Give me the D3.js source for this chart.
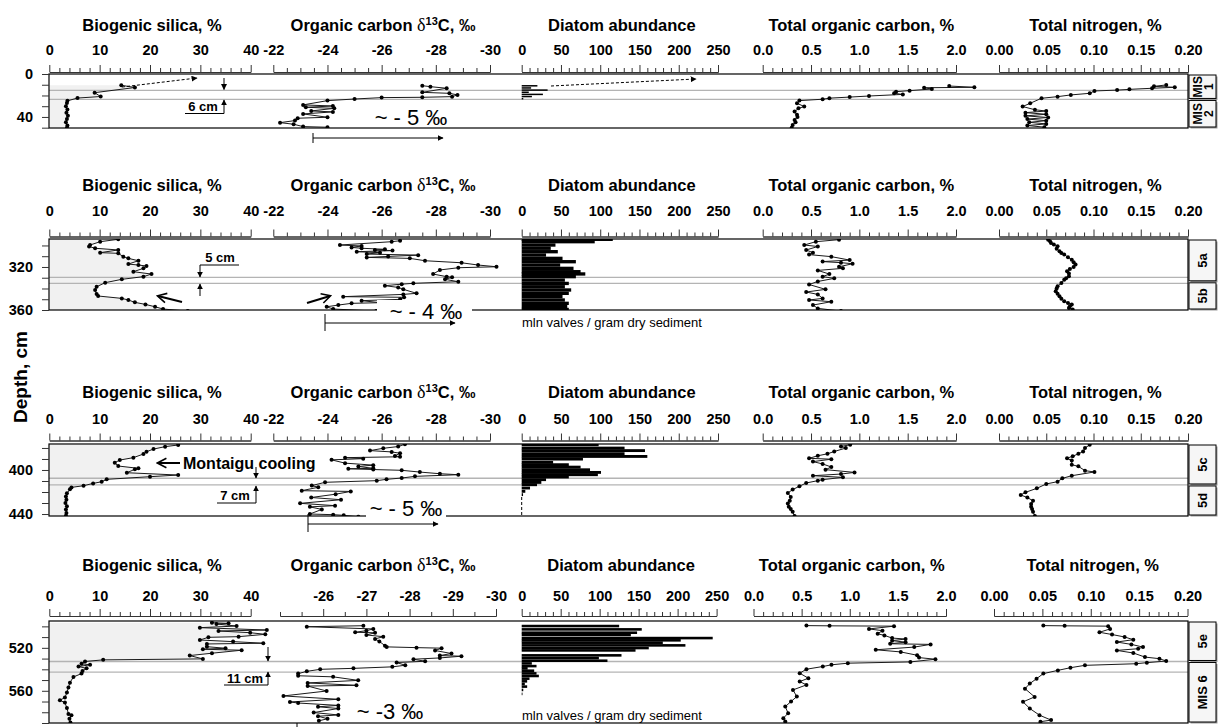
<!DOCTYPE html>
<html>
<head>
<meta charset="utf-8">
<script src="https://cdnjs.cloudflare.com/ajax/libs/d3/7.8.5/d3.min.js"></script>
<style>
  body { margin: 0; background: #fff; }
  svg { display: block; font-family: "Liberation Sans", Arial, sans-serif; }
</style>
</head>
<body>
<script>
// ---- data: [depth cm, value] ----
const silicaR1 = [[10.5,14.3],[12.6,17.0],[17.4,9.0],[21.0,10.2],[22.4,5.6],[25.0,3.6],[27,3.5],[30,3.3],[33,3.6],[36,3.4],[39,3.7],[42,3.5],[45,3.3],[48,3.6],[50,3.5]];
const d13cR1 = [[10.9,-27.5],[11.8,-27.8],[13.3,-28.4],[17.1,-27.5],[18,-28.5],[19.5,-28.8],[21.1,-28.6],[21.7,-27.5],[22,-26.0],[23.3,-25.0],[24.8,-24.0],[28.8,-23.1],[29.8,-24.2],[31,-23.2],[32,-24.25],[34.4,-23.4],[35.3,-24.2],[37.2,-23.1],[40.3,-24.0],[41.2,-22.9],[43.4,-22.8],[45.3,-22.25],[46.8,-22.75],[49,-23.1],[49.6,-24.0]];
const diatomR1 = [[11,20],[13,12],[15,33],[17,9],[19,27],[21,13],[23,2]];
const tocR1 = [[11.2,1.93],[12.4,2.19],[12.8,1.67],[14,1.75],[15.5,1.52],[16.5,1.38],[18,1.36],[19,1.45],[20.5,1.10],[21.5,0.90],[22.5,0.69],[23.5,0.62],[24.8,0.38],[27.3,0.355],[30.3,0.43],[32,0.37],[35,0.33],[38,0.355],[40,0.36],[42.8,0.33],[45,0.34],[47.4,0.31],[50,0.30]];
const tnR1 = [[10.2,0.177],[11.5,0.164],[12.4,0.186],[13.3,0.162],[14.3,0.138],[15,0.125],[15.8,0.101],[18,0.096],[19.5,0.076],[21.1,0.062],[22.6,0.045],[27.3,0.033],[30.3,0.025],[33.3,0.038],[34.5,0.05],[36,0.028],[37.5,0.05],[39,0.028],[40.5,0.052],[42,0.03],[43.5,0.05],[45,0.032],[46.5,0.05],[48,0.03],[49.5,0.048]];

const silicaR2 = [[294.3,13.7],[296.5,10.1],[299.6,8.1],[301,7.9],[302.6,9.1],[304.2,13.7],[306.7,10.1],[307.3,13.7],[310.4,14.7],[312,15.7],[314.2,17.7],[317.3,15.7],[318.2,17.7],[319.1,19.3],[321.3,18.7],[324.4,16.7],[326.6,20.3],[329,18.7],[331.5,14.4],[334.6,11.1],[338.4,9.4],[341.4,9.1],[345.2,9.4],[347,9.7],[349.2,14.4],[350.7,15.7],[352.9,17],[354.8,19.1],[357,21],[359.1,22.6],[361,27.5]];
const d13cR2 = [[295.6,-26.68],[296.5,-26.37],[299.6,-24.46],[300.5,-25.26],[301.8,-24.89],[302.6,-25.26],[303.6,-26.12],[304.2,-25.75],[304.8,-26.4],[305.8,-25.08],[306.7,-25.94],[308,-25.45],[309,-27.35],[310.2,-26.24],[311.1,-25.45],[312,-27.04],[314.2,-27.6],[316.1,-28.95],[318.2,-29.56],[319.8,-30.24],[320.7,-28.83],[322.8,-28.15],[326.6,-27.9],[329,-28.4],[329.6,-28.6],[331.5,-28.34],[333.7,-28.83],[335.2,-27.17],[336,-26.74],[337.4,-26.12],[339,-26.61],[340.8,-26.8],[344.5,-27.29],[345.5,-26.8],[347.6,-24.58],[348.2,-26.83],[350.1,-26.68],[351.3,-25.26],[353.2,-25.94],[353.8,-24.89],[355.4,-24.4],[357,-23.97],[359.1,-24.21],[361,-25.8]];
const diatomR2 = [[294.3,116],[296.5,93],[299.6,43],[302.6,37],[305.8,46],[308.9,31],[312,52],[315.1,69],[318.2,49],[321.3,66],[324.4,75],[326.5,81],[329,69],[332.2,55],[335.3,60],[338.4,55],[341.4,63],[344.5,60],[347.6,52],[350.7,55],[353.8,60],[356.9,58],[359.5,60]];
const tocR2 = [[294.6,0.79],[296.5,0.55],[299.6,0.43],[301,0.57],[304.2,0.45],[306.7,0.52],[308.5,0.48],[310.4,0.71],[313.6,0.90],[315,0.62],[316,0.81],[317,0.93],[319.8,0.79],[321.3,0.83],[323.2,0.57],[326.6,0.69],[329,0.62],[330.6,0.74],[333.5,0.57],[336.3,0.48],[340.8,0.65],[343.3,0.45],[345.5,0.57],[349.2,0.62],[350.7,0.48],[352.3,0.71],[355.4,0.52],[358.5,0.57],[361,0.81]];
const tnR2 = [[294.6,0.052],[296,0.054],[297.7,0.055],[299,0.058],[300.8,0.062],[303,0.061],[305.5,0.064],[307,0.066],[308.5,0.069],[311,0.073],[313.2,0.077],[315.5,0.079],[317.8,0.081],[320,0.079],[322,0.075],[324,0.072],[326,0.074],[328.7,0.074],[330.5,0.071],[331.8,0.069],[335,0.066],[338,0.062],[340,0.061],[342.6,0.06],[345,0.062],[347.3,0.064],[349.5,0.066],[351.9,0.069],[353.5,0.073],[355,0.077],[356.5,0.075],[358.1,0.074],[359.5,0.078]];

const silicaR3 = [[377.3,25.6],[378.8,23],[381,20.7],[383.4,19.3],[385.5,18.7],[388.8,16.7],[391,14],[393.4,13],[396.4,13.7],[398.5,17.7],[399.4,17],[402.5,15.4],[404.6,25.6],[406.1,20],[408.5,11.4],[410.7,10.4],[412.2,8.7],[414.3,6.8],[415.8,4.4],[417.6,4.1],[421.2,3.5],[424,3.3],[427,3.4],[430,3.2],[433,3.5],[436,3.3],[439,3.4],[441.5,3.3]];
const d13cR3 = [[376.6,-26.86],[378.7,-26.61],[380.3,-26.06],[382.4,-25.57],[383.6,-26.37],[384.8,-26.68],[387.2,-26.49],[388,-26.68],[388.8,-24.65],[389.7,-25.32],[390.8,-24.15],[393.8,-24.65],[395.6,-25.69],[396.8,-25.14],[398.5,-25.69],[398.9,-24.77],[399.6,-25.69],[400.3,-26.74],[401.9,-27.41],[403.4,-28.15],[404.3,-28.83],[405.8,-27.23],[407.3,-26.74],[408.5,-26.18],[409.7,-25.82],[411.2,-23.91],[414.2,-23.42],[415.7,-23.66],[418.8,-23.05],[419.5,-24.86],[422,-24.3],[425,-23.4],[427,-24.5],[430.3,-22.99],[432.4,-24.28],[433.5,-23.35],[435.8,-23.79],[440,-23.35],[440.6,-24.21],[441.2,-24.6],[442.5,-25.14]];
const diatomR3 = [[377.1,98],[380.1,131],[382.4,157],[385.2,131],[387.7,160],[390.1,78],[393.1,40],[395.2,60],[397.4,75],[399.8,87],[402.2,101],[404.3,97],[406.4,60],[408.8,31],[411.3,25],[413.4,19.5],[416.4,10.6],[419.4,4.6],[422.4,1.7]];
const tocR3 = [[377.1,0.905],[378.6,0.81],[380.1,0.86],[383.2,0.74],[385.3,0.67],[387.1,0.57],[389.4,0.48],[390.2,0.71],[392.4,0.52],[394.5,0.62],[397.3,0.71],[399.7,0.65],[402.2,0.95],[403.7,0.81],[405.2,0.52],[406.7,0.83],[408.8,0.62],[409.7,0.57],[411.8,0.45],[414.8,0.38],[417.8,0.31],[420.9,0.26],[424.5,0.29],[428,0.28],[430.5,0.26],[433.3,0.27],[435.5,0.29],[437.9,0.31],[441.9,0.33]];
const tnR3 = [[377.1,0.096],[380.1,0.091],[383.2,0.089],[385.3,0.084],[387.5,0.078],[389.4,0.072],[391.5,0.077],[395.2,0.077],[396.7,0.084],[400.6,0.091],[401.8,0.101],[405.2,0.077],[407.6,0.067],[410.6,0.062],[412.7,0.05],[416.7,0.04],[420.3,0.028],[422.7,0.023],[425,0.03],[428,0.036],[431,0.034],[433.3,0.034],[435.5,0.035],[437.9,0.036],[441.9,0.038]];

const silicaR4 = [[496.6,32.3],[497.2,35.6],[497.8,33.2],[499.7,37.2],[501.2,29.9],[503.4,43.2],[504.3,33.6],[505.9,39.9],[507.4,42.9],[509.6,37.6],[510.2,31.6],[512.7,29.9],[514.2,36.5],[515.7,42.5],[516.4,31.3],[518.9,31.3],[520.4,35],[521.3,30.5],[522.2,38.2],[525,32.3],[527.2,27.9],[530.3,30.5],[531.2,10.7],[532.7,7.1],[534.8,6.4],[535.8,8.1],[537.4,5.8],[539.1,7.4],[541.6,6.6],[544,6.4],[547.1,4.8],[552.4,4.1],[557,3.8],[561.7,3.5],[566.3,3.1],[568.8,2.1],[571,3.1],[576,3.5],[581.6,3.8],[582.8,4.4],[586,4],[589.5,4.2]];
const d13cR4 = [[499.4,-26.93],[500.3,-25.62],[502.4,-27.16],[504,-27.0],[505.5,-26.74],[506,-27.2],[508,-27.0],[509.6,-27.39],[511.7,-27.2],[514,-27.3],[518,-27.43],[519.1,-27.47],[519.8,-28.16],[520.3,-28.74],[522.5,-28.59],[525.3,-28.97],[527.2,-28.7],[527.8,-29.2],[529.4,-28.7],[530.6,-28.09],[532.5,-28.36],[533.7,-27.7],[536.2,-27.9],[537.7,-27.6],[539.1,-26.7],[540,-25.93],[541.9,-25.62],[544,-25.42],[546,-25.42],[547,-26.23],[550.3,-26.81],[552.7,-25.64],[554.9,-26.77],[555.6,-25.64],[560.2,-26.08],[564.8,-25.08],[567.9,-26.35],[570.4,-25.23],[571.4,-25.42],[573.6,-26.35],[574.9,-25.88],[576.5,-26.35],[580.3,-25.78],[582.5,-26.35],[583.7,-25.88],[586,-26.1],[588,-25.9]];
const diatomR4 = [[499.7,125],[502.8,154],[505.9,148],[508,140],[510.9,245],[513,204],[515.2,181],[517.7,210],[520.2,163],[522.4,146],[527,128],[529.5,99],[532,110],[534.5,13],[537,19],[539.1,7.6],[541.3,16],[543.8,19],[546.2,22],[548.7,10],[551.2,7],[553.7,4],[556.1,7],[559.2,2],[562.9,1]];
const tocR4 = [[499.3,0.55],[499.5,0.79],[499.8,1.46],[502.4,1.20],[504,1.34],[506.9,1.29],[508.4,1.36],[510.9,1.44],[511.8,1.58],[513.3,1.44],[514.7,1.58],[516.2,1.42],[516.8,1.84],[519.3,1.67],[521.8,1.27],[523.8,1.53],[526.9,1.70],[529.1,1.72],[530.6,1.89],[533.1,1.63],[534.3,0.98],[535.8,0.81],[537.4,0.72],[539.9,0.55],[543.6,0.48],[548.3,0.57],[551.4,0.48],[554.5,0.55],[559.2,0.41],[565.4,0.45],[570,0.39],[574.7,0.33],[580.9,0.36],[585.5,0.31],[588.6,0.33]];
const tnR4 = [[499.3,0.051],[499.5,0.073],[499.8,0.118],[502.4,0.12],[505.5,0.109],[507.6,0.122],[509.9,0.135],[512.4,0.144],[514.6,0.127],[516.8,0.142],[519.3,0.154],[520.8,0.149],[522.4,0.127],[524.8,0.144],[528.6,0.156],[530.1,0.171],[532.3,0.178],[533.8,0.158],[534.8,0.147],[536.3,0.094],[538.5,0.079],[541,0.066],[544,0.051],[548.7,0.044],[553.3,0.037],[558,0.032],[565.7,0.042],[570.3,0.03],[576.5,0.037],[582.7,0.047],[587.3,0.059],[588.8,0.048]];

// depth ranges, labelled depths, stage boundaries and stage names per row
const depthDomains = [[0, 50.3], [294, 360], [376.4, 441.8], [495, 590]];
const depthLabels = [[0, 40], [320, 360], [400, 440], [520, 560]];
const boundaryDepths = [[15.2, 23.7], [329.6, 335.2], [407.5, 413.6], [532.7, 542.6]];
const stages = [
  [['MIS 1', 0, 23.7], ['MIS 2', 23.7, 50.3]],
  [['5a', 294, 333.8], ['5b', 333.8, 360]],
  [['5c', 376.4, 413.6], ['5d', 413.6, 441.8]],
  [['5e', 495, 532.7], ['MIS 6', 532.7, 590]]
];

// tick labels
const silicaLabels = [0, 10, 20, 30, 40];
const d13cLabels = [-22, -24, -26, -28, -30];
const d13cLabelsR4 = [-26, -27, -28, -29, -30];
const diatomLabels = [0, 50, 100, 150, 200, 250];
const tocLabels = [0, 0.5, 1.0, 1.5, 2.0];
const tnLabels = [0, 0.05, 0.10, 0.15, 0.20];

const silicaRows = [silicaR1, silicaR2, silicaR3, silicaR4];
const d13cRows = [d13cR1, d13cR2, d13cR3, d13cR4];
const diatomRows = [diatomR1, diatomR2, diatomR3, diatomR4];
const tocRows = [tocR1, tocR2, tocR3, tocR4];
const tnRows = [tnR1, tnR2, tnR3, tnR4];

// ---- layout ----
const width = 1218, height = 727;
const frameLeft = 49, frameRight = 1188, boxRight = 1216;
const rowTop = [74, 239, 444, 621];
const rowBottom = [128, 310, 516, 723];
const axisY = [72, 236.5, 440.5, 616];
const labelLift = [17, 21, 17, 15];
const titleY = [31, 191, 397.5, 571];
const barThick = [1.4, 3.1, 2.6, 2.4];

function colRange(key, r) {
  const base = { silica: [49.3, 250.7], d13c: [273.3, 490], diatom: [521.7, 718], toc: [762.7, 956], tn: [999, 1188] };
  const last = { silica: [49.3, 250.7], d13c: [280, 496], diatom: [521.7, 716.6], toc: [753.5, 946], tn: [994, 1187.5] };
  return (r === 3 ? last : base)[key];
}

const panels = [
  { key: 'silica', dom: [0, 40], step: 2, labels: () => silicaLabels, fmt: d => d, title: 'Biogenic silica, %' },
  { key: 'd13c', dom: [-22, -30], step: 0.5, labels: r => r === 3 ? d13cLabelsR4 : d13cLabels, fmt: d => String(d), title: null },
  { key: 'diatom', dom: [0, 250], step: 10, labels: () => diatomLabels, fmt: d => d, title: 'Diatom abundance' },
  { key: 'toc', dom: [0, 2], step: 0.1, labels: () => tocLabels, fmt: d3.format('.1f'), title: 'Total organic carbon, %' },
  { key: 'tn', dom: [0, 0.2], step: 0.01, labels: () => tnLabels, fmt: d3.format('.2f'), title: 'Total nitrogen, %' }
];

const svg = d3.select('body').append('svg')
  .attr('width', width)
  .attr('height', height);

const defs = svg.append('defs');
defs.append('marker').attr('id', 'tri')
  .attr('viewBox', '0 0 10 10').attr('refX', 9).attr('refY', 5)
  .attr('markerWidth', 6).attr('markerHeight', 6).attr('orient', 'auto')
  .append('path').attr('d', 'M0,0L10,5L0,10z').attr('fill', '#000');
defs.append('marker').attr('id', 'open')
  .attr('viewBox', '0 0 10 10').attr('refX', 8).attr('refY', 5)
  .attr('markerWidth', 6).attr('markerHeight', 6).attr('orient', 'auto')
  .append('path').attr('d', 'M1,1L8.5,5L1,9').attr('fill', 'none').attr('stroke', '#000').attr('stroke-width', 1.3);

function styleAxis(sel) {
  sel.attr('font-family', null).attr('font-size', 14.5).attr('font-weight', 'bold');
  sel.selectAll('path').attr('stroke', '#333');
  sel.selectAll('line').attr('stroke', '#333');
  sel.selectAll('text').attr('fill', '#000');
}

for (let r = 0; r < 4; r++) {
  const top = rowTop[r], bot = rowBottom[r];
  const y = d3.scaleLinear().domain(depthDomains[r]).range([top, bot]);
  const xs = {};
  panels.forEach(p => {
    const dom = (r === 3 && p.key === 'd13c') ? [-25, -30] : p.dom;
    xs[p.key] = d3.scaleLinear().domain(dom).range(colRange(p.key, r));
  });

  defs.append('clipPath').attr('id', 'clip' + r)
    .append('rect').attr('x', frameLeft).attr('y', top)
    .attr('width', frameRight - frameLeft).attr('height', bot - top);

  const g = svg.append('g');
  const plot = g.append('g').attr('clip-path', `url(#clip${r})`);

  // silica area fill
  plot.append('path').datum(silicaRows[r])
    .attr('d', d3.area().y(d => y(d[0])).x0(xs.silica(0)).x1(d => xs.silica(d[1])))
    .attr('fill', '#f1f1f1');

  // stage boundaries
  plot.selectAll('.bd').data(boundaryDepths[r]).enter().append('line')
    .attr('x1', frameLeft).attr('x2', frameRight)
    .attr('y1', d => y(d)).attr('y2', d => y(d))
    .attr('stroke', '#b4b4b4').attr('stroke-width', 1.3);

  // diatom bars
  plot.selectAll('.bar').data(diatomRows[r]).enter().append('rect')
    .attr('x', xs.diatom(0))
    .attr('y', d => y(d[0] - barThick[r] / 2))
    .attr('width', d => xs.diatom(d[1]) - xs.diatom(0))
    .attr('height', d => Math.max(1, y(d[0] + barThick[r] / 2) - y(d[0] - barThick[r] / 2)))
    .attr('fill', '#000');

  // line series with dots
  [['silica', silicaRows[r]], ['d13c', d13cRows[r]], ['toc', tocRows[r]], ['tn', tnRows[r]]].forEach(([key, data]) => {
    const xsc = xs[key];
    plot.append('path').datum(data)
      .attr('d', d3.line().x(d => xsc(d[1])).y(d => y(d[0])))
      .attr('fill', 'none').attr('stroke', '#1a1a1a').attr('stroke-width', 1);
    plot.selectAll(null).data(data).enter().append('circle')
      .attr('cx', d => xsc(d[1])).attr('cy', d => y(d[0]))
      .attr('r', 2).attr('fill', '#000');
  });

  // frame
  g.append('rect').attr('x', frameLeft).attr('y', top)
    .attr('width', frameRight - frameLeft).attr('height', bot - top)
    .attr('fill', 'none').attr('stroke', '#000').attr('stroke-width', 1.2);

  // depth axis
  const dTicks = d3.range(Math.ceil(depthDomains[r][0] / 10) * 10, depthDomains[r][1] + 0.01, 10);
  g.append('g').attr('transform', `translate(${frameLeft},0)`)
    .call(d3.axisLeft(y).tickValues(dTicks).tickSize(7).tickPadding(9).tickSizeOuter(0)
      .tickFormat(d => depthLabels[r].includes(d) ? d : ''))
    .call(styleAxis)
    .call(s => s.select('.domain').remove());

  // top axes and titles
  panels.forEach(p => {
    const sc = xs[p.key];
    const labels = p.labels(r);
    const dom = sc.domain();
    const n = Math.round(Math.abs(dom[1] - dom[0]) / p.step);
    const ticks = d3.range(n + 1).map(i => dom[0] + Math.sign(dom[1] - dom[0]) * i * p.step);
    const isLab = v => labels.some(l => Math.abs(l - v) < 1e-6);
    g.append('g').attr('transform', `translate(0,${axisY[r]})`)
      .call(d3.axisTop(sc).tickValues(ticks.filter(v => !isLab(v))).tickSize(4).tickSizeOuter(0).tickFormat(''))
      .call(styleAxis);
    g.append('g').attr('transform', `translate(0,${axisY[r]})`)
      .call(d3.axisTop(sc).tickValues(labels).tickSize(7).tickSizeOuter(0)
        .tickPadding(labelLift[r] - 7).tickFormat(p.fmt))
      .call(styleAxis);

    const cx = (sc.range()[0] + sc.range()[1]) / 2;
    if (p.title) {
      g.append('text').attr('x', cx + 2).attr('y', titleY[r])
        .attr('text-anchor', 'middle').attr('font-size', 16.5).attr('font-weight', 'bold')
        .text(p.title);
    } else {
      const t = g.append('text').attr('x', 383).attr('y', titleY[r])
        .attr('text-anchor', 'middle').attr('font-size', 16.5).attr('font-weight', 'bold');
      t.append('tspan').text('Organic carbon  ');
      t.append('tspan').attr('font-family', '"Liberation Serif", serif').attr('font-weight', 'normal').attr('font-size', 18).text('δ');
      t.append('tspan').attr('font-size', 11).attr('dy', -6).text('13');
      t.append('tspan').attr('dy', 6).text('C, ‰');
    }
  });

  // stage label boxes
  stages[r].forEach(([name, a, b]) => {
    const y0 = y(a) + 1, y1 = y(b) - 1;
    g.append('rect').attr('x', frameRight + 2.5).attr('y', y0 + 1.5)
      .attr('width', boxRight - frameRight - 1).attr('height', y1 - y0).attr('fill', '#9a9a9a');
    g.append('rect').attr('x', frameRight + 1).attr('y', y0)
      .attr('width', boxRight - frameRight - 1).attr('height', y1 - y0)
      .attr('fill', '#f6f6f6').attr('stroke', '#000').attr('stroke-width', 1);
    const cx = (frameRight + 1 + boxRight) / 2, cy = (y0 + y1) / 2;
    const lines = (y1 - y0 < 32) ? name.split(' ') : [name];
    lines.forEach((ln, i) => {
      const off = lines.length === 1 ? 0 : (i === 0 ? -5 : 6);
      g.append('text')
        .attr('transform', `translate(${cx + off},${cy}) rotate(-90)`)
        .attr('text-anchor', 'middle').attr('dominant-baseline', 'central')
        .attr('font-size', lines.length === 1 ? 13 : 12).attr('font-weight', 'bold')
        .text(ln);
    });
  });
}

// ---- annotations ----
function arrow(x1, y1, x2, y2, opts = {}) {
  const l = svg.append('line').attr('x1', x1).attr('y1', y1).attr('x2', x2).attr('y2', y2)
    .attr('stroke', '#000').attr('stroke-width', opts.w || 1)
    .attr('marker-end', `url(#${opts.marker || 'tri'})`);
  if (opts.dash) l.attr('stroke-dasharray', opts.dash);
  return l;
}
function seg(x1, y1, x2, y2, w) {
  return svg.append('line').attr('x1', x1).attr('y1', y1).attr('x2', x2).attr('y2', y2)
    .attr('stroke', '#000').attr('stroke-width', w || 1);
}
function label(x, y, txt, size, bold, anchor) {
  return svg.append('text').attr('x', x).attr('y', y).attr('font-size', size)
    .attr('font-weight', bold ? 'bold' : 'normal').attr('text-anchor', anchor || 'middle').text(txt);
}
function shiftNote(x, y, txt, knockout) {
  if (knockout) {
    svg.append('rect').attr('x', knockout[0]).attr('y', knockout[1])
      .attr('width', knockout[2]).attr('height', knockout[3]).attr('fill', '#fff');
  }
  label(x, y, txt, 22, false);
}

// row 1
arrow(122, 87, 197, 78, { dash: '3,2' });
arrow(551, 86, 696, 79, { dash: '3,2' });
arrow(224, 78, 224, 89.5);
arrow(224, 113.5, 224, 100);
seg(185, 113.5, 224, 113.5);
label(203, 111, '6 cm', 13, true);
shiftNote(411, 124.5, '~ - 5 ‰');
arrow(313, 138, 443, 138);
seg(313, 133, 313, 143);

// row 2
arrow(182, 302, 158, 296, { w: 2, marker: 'open' });
arrow(307, 303, 330, 296, { w: 2, marker: 'open' });
seg(200, 265, 239, 265);
label(220, 262, '5 cm', 13, true);
arrow(200, 265, 200, 277);
arrow(200, 296, 200, 284);
shiftNote(426, 318.5, '~ - 4 ‰', [377, 300, 95, 20]);
arrow(325, 323, 455, 323);
seg(325, 314, 325, 331);
label(522, 327, 'mln valves / gram dry sediment', 13, false, 'start');

// row 3
arrow(180, 463, 158, 463, { w: 2, marker: 'open' });
label(183, 468.5, 'Montaigu cooling', 16, true, 'start');
arrow(256, 467, 256, 478);
arrow(256, 503, 256, 486);
seg(217, 503, 256, 503);
label(235, 500, '7 cm', 13, true);
svg.append('line').attr('x1', 521.7).attr('x2', 521.7).attr('y1', 497).attr('y2', 516)
  .attr('stroke', '#000').attr('stroke-dasharray', '3,2');
shiftNote(406, 516, '~ - 5 ‰', [366, 499, 80, 19]);
arrow(308, 524, 438, 524);
seg(308, 514, 308, 532);

// row 4
arrow(268, 647, 268, 661);
arrow(268, 685, 268, 672);
seg(224, 685, 268, 685);
label(245, 683, '11 cm', 13, true);
shiftNote(390, 719, '~ -3 ‰');
seg(297, 723, 297, 740);
label(522, 720, 'mln valves / gram dry sediment', 13, false, 'start');

// depth axis title
svg.append('text')
  .attr('transform', 'translate(27,377) rotate(-90)')
  .attr('text-anchor', 'middle').attr('font-size', 19).attr('font-weight', 'bold')
  .text('Depth, cm');
</script>
</body>
</html>
